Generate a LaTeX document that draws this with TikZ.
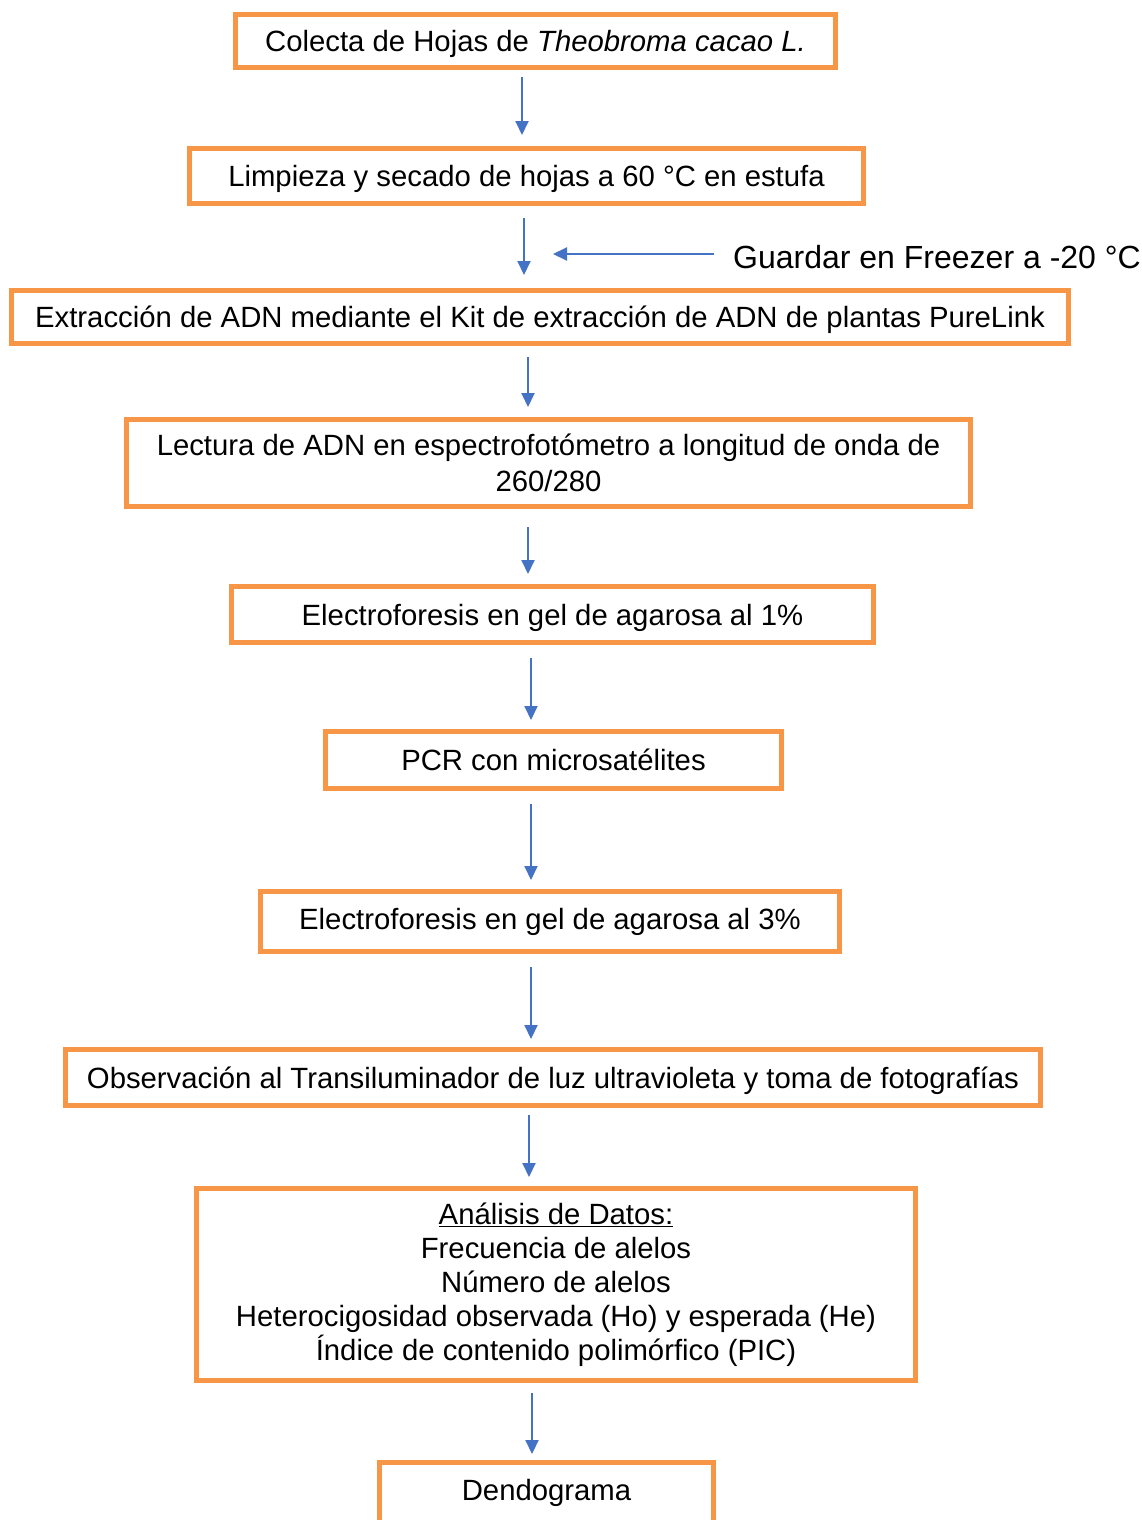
\documentclass[tikz,border=0pt]{standalone}
\usepackage{fontspec}
\setmainfont{Liberation Sans}
\usetikzlibrary{arrows.meta}
\definecolor{boxorange}{HTML}{F79646}
\definecolor{arrblue}{HTML}{4472C4}
\begin{document}
\begin{tikzpicture}[x=1pt,y=-1pt,
  stepbox/.style={draw=boxorange, line width=5pt, fill=white, inner sep=0pt, align=center,
    font=\fontsize{29.3}{34}\selectfont},
  oneline/.style={stepbox, text depth=0pt},
  arr/.style={draw=arrblue, line width=2pt, -{Triangle[length=14pt,width=13pt]}}]
\useasboundingbox (0,0) rectangle (1142,1520);
\fill[white] (0,0) rectangle (1142,1520);
\node[oneline, minimum width=600pt, minimum height=53pt] (n1) at (535.5,41) {Colecta de Hojas de \textit{Theobroma cacao L.}};
\node[oneline, minimum width=674pt, minimum height=55pt] (n2) at (526.5,176) {Limpieza y secado de hojas a 60 °C en estufa};
\node[oneline, minimum width=1057pt, minimum height=53pt] (n3) at (540,317) {Extracción de ADN mediante el Kit de extracción de ADN de plantas PureLink};
\node[stepbox, minimum width=844pt, minimum height=87pt, font=\fontsize{29.3}{36}\selectfont] (n4) at (548.5,463) {Lectura de ADN en espectrofotómetro a longitud de onda de\\260/280};
\node[oneline, minimum width=642pt, minimum height=56pt] (n5) at (552.5,614.5) {Electroforesis en gel de agarosa al 1\%};
\node[oneline, minimum width=456pt, minimum height=57pt] (n6) at (553.5,760) {PCR con microsatélites};
\node[stepbox, minimum width=579pt, minimum height=60pt] (n7) at (550,921.5) {Electroforesis en gel de agarosa al 3\%};
\node[oneline, minimum width=975pt, minimum height=56pt] (n8) at (553,1077.5) {Observación al Transiluminador de luz ultravioleta y toma de fotografías};
\node[stepbox, minimum width=719pt, minimum height=192pt] (n9) at (556,1284.5) {\underline{Análisis de Datos:}\\Frecuencia de alelos\\Número de alelos\\Heterocigosidad observada (Ho) y esperada (He)\\Índice de contenido polimórfico (PIC)};
\node[stepbox, minimum width=334pt, minimum height=60pt] (n10) at (546.5,1492.5) {Dendograma};
\node[anchor=west, inner sep=0pt, font=\fontsize{32}{38}\selectfont] (g) at (733,257) {Guardar en Freezer a -20 °C};
% columns
\coordinate (x1) at (522,0);
\coordinate (x2) at (524,0);
\coordinate (x3) at (528,0);
\coordinate (x4) at (528,0);
\coordinate (x5) at (531,0);
\coordinate (x6) at (531,0);
\coordinate (x7) at (531,0);
\coordinate (x8) at (529,0);
\coordinate (x9) at (532,0);
\coordinate (ge) at (553,254);
\draw[arr, shorten <=7pt, shorten >=11pt] (n1.south -| x1) -- (n2.north -| x1);
\draw[arr, shorten <=12pt, shorten >=13pt] (n2.south -| x2) -- (n3.north -| x2);
\draw[arr, shorten <=11pt, shorten >=10pt] (n3.south -| x3) -- (n4.north -| x3);
\draw[arr, shorten <=18pt, shorten >=10pt] (n4.south -| x4) -- (n5.north -| x4);
\draw[arr, shorten <=13pt, shorten >=9pt] (n5.south -| x5) -- (n6.north -| x5);
\draw[arr, shorten <=13pt, shorten >=9pt] (n6.south -| x6) -- (n7.north -| x6);
\draw[arr, shorten <=13pt, shorten >=8pt] (n7.south -| x7) -- (n8.north -| x7);
\draw[arr, shorten <=7pt, shorten >=9pt] (n8.south -| x8) -- (n9.north -| x8);
\draw[arr, shorten <=10pt, shorten >=6pt] (n9.south -| x9) -- (n10.north -| x9);
\draw[arr, shorten <=19pt] (g.west |- ge) -- (ge);
\end{tikzpicture}
\end{document}
